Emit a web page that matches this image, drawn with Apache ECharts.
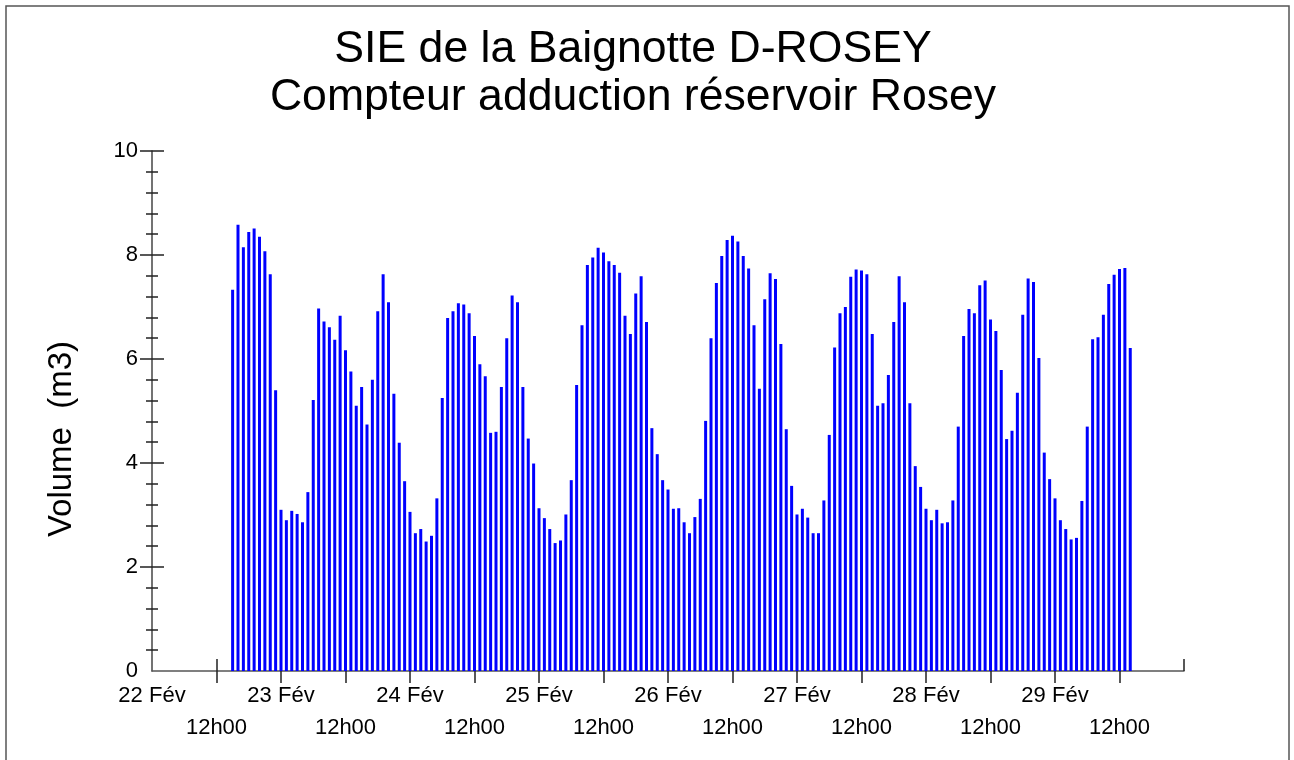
<!DOCTYPE html>
<html>
<head>
<meta charset="utf-8">
<script src="https://cdn.jsdelivr.net/npm/echarts@6/dist/echarts.min.js"></script>
<style>
html, body { margin: 0; padding: 0; background: #fff; }
#chart { width: 1294px; height: 760px; }
</style>
</head>
<body>
<div id="chart"></div>
<script>
// volumes horaires (m3), premiere barre a 22 Fev 15h
var firstHour = 15;
var volumes = [
	7.33, 8.58, 8.15, 8.44, 8.51, 8.35, 8.07, 7.63, 5.40, 3.10, 2.90, 3.08, 3.02, 2.86, 3.44, 5.21, 6.97, 6.72, 6.61, 6.37, 6.83,
	6.17, 5.76, 5.10, 5.46, 4.74, 5.60, 6.92, 7.63, 7.09, 5.33, 4.39, 3.65, 3.06, 2.65, 2.73, 2.49, 2.60, 3.32, 5.25, 6.79, 6.92, 7.07, 7.05,
	6.88, 6.44, 5.90, 5.67, 4.58, 4.60, 5.46, 6.40, 7.22, 7.09, 5.46, 4.47, 3.99, 3.13, 2.94, 2.73, 2.46, 2.51, 3.01, 3.67, 5.50, 6.65,
	7.81, 7.95, 8.14, 8.05, 7.88, 7.81, 7.66, 6.83, 6.48, 7.26, 7.59, 6.71, 4.67, 4.17, 3.67, 3.49, 3.12, 3.13, 2.86, 2.65, 2.96, 3.31,
	4.81, 6.40, 7.46, 7.98, 8.29, 8.37, 8.26, 7.98, 7.74, 6.65, 5.43, 7.15, 7.65, 7.54, 6.29, 4.65, 3.56, 3.01, 3.12, 2.95, 2.65, 2.65,
	3.28, 4.54, 6.22, 6.88, 7.00, 7.58, 7.72, 7.70, 7.63, 6.48, 5.10, 5.15, 5.69, 6.71, 7.59, 7.09, 5.15, 3.94, 3.54, 3.12, 2.90, 3.10, 2.84,
	2.86, 3.28, 4.70, 6.44, 6.96, 6.88, 7.42, 7.51, 6.76, 6.54, 5.79, 4.46, 4.62, 5.35, 6.85, 7.55, 7.48, 6.02, 4.20, 3.69, 3.32, 2.90,
	2.73, 2.53, 2.56, 3.27, 4.70, 6.38, 6.42, 6.85, 7.44, 7.62, 7.73, 7.75, 6.21
];
var dayLabels = ['22 Fév', '23 Fév', '24 Fév', '25 Fév', '26 Fév', '27 Fév', '28 Fév', '29 Fév', '01 Mars'];
var halfDayLabel = '12h00';
var yTicks = [0, 2, 4, 6, 8, 10];
var titleLines = ['SIE de la Baignotte D-ROSEY', 'Compteur adduction réservoir Rosey'];

(function() {
	var chart = echarts.init(document.getElementById('chart'));
	var font = 'Liberation Sans, Arial, sans-serif';

	var data = [];
	for (var i = 0; i < volumes.length; i++) {
		data.push([firstHour + i, volumes[i]]);
	}

	var xMax = (dayLabels.length - 1) * 24;
	var labelValues = [], tickValues = [];
	for (var h = 0; h <= xMax; h += 12) {
		labelValues.push(h);
		if (h > 0) tickValues.push(h);
	}

	function xLabel(v) {
		if (v % 24 === 0) return dayLabels[v / 24];
		return '\n' + halfDayLabel;
	}

	var xBase = {
		type: 'value',
		position: 'bottom',
		min: 0,
		max: xMax,
		splitLine: { show: false }
	};

	option = {
		animation: false,
		backgroundColor: '#fff',
		graphic: [
			{
				type: 'rect',
				shape: { x: 6, y: 6, width: 1283, height: 800 },
				style: { fill: 'none', stroke: '#555', lineWidth: 1.5 },
				silent: true
			},
			{
				// titre sur deux lignes
				type: 'text',
				x: 633,
				y: 74,
				style: {
					text: titleLines.join('\n'),
					font: '44.6px ' + font,
					lineHeight: 48,
					fill: '#000',
					align: 'center',
					verticalAlign: 'middle'
				}
			},
			{
				type: 'text',
				x: 62,
				y: 439,
				rotation: Math.PI / 2,
				style: {
					text: 'Volume  (m3)',
					font: '33px ' + font,
					fill: '#000',
					align: 'center',
					verticalAlign: 'middle'
				}
			}
		],
		grid: {
			left: 152,
			right: 110,
			top: 151,
			bottom: 89
		},
		xAxis: [
			echarts.util.merge({
				axisLine: { lineStyle: { color: '#555', width: 1.5 } },
				axisTick: {
					customValues: tickValues,
					length: 12,
					lineStyle: { color: '#222', width: 1.5 }
				},
				axisLabel: {
					customValues: labelValues,
					formatter: xLabel,
					margin: 9,
					fontFamily: font,
					fontSize: 22,
					lineHeight: 32,
					color: '#000'
				}
			}, xBase, true),
			echarts.util.merge({
				axisLine: { show: false },
				axisTick: {
					customValues: tickValues,
					inside: true,
					length: 12,
					lineStyle: { color: '#222', width: 1.5 }
				},
				axisLabel: { show: false }
			}, xBase, true)
		],
		yAxis: [
			{
				type: 'value',
				position: 'left',
				min: 0,
				max: 10,
				interval: 2,
				splitLine: { show: false },
				axisLine: { show: true, lineStyle: { color: '#444', width: 1.5 } },
				axisTick: {
					customValues: yTicks.slice(1),
					length: 12,
					lineStyle: { color: '#222', width: 1.5 }
				},
				minorTick: {
					show: true,
					splitNumber: 5,
					length: 6,
					lineStyle: { color: '#222', width: 1.5 }
				},
				axisLabel: {
					customValues: yTicks,
					margin: 14,
					fontFamily: font,
					fontSize: 22,
					color: '#000'
				}
			},
			{
				type: 'value',
				position: 'left',
				min: 0,
				max: 10,
				interval: 2,
				splitLine: { show: false },
				axisLine: { show: false },
				axisTick: {
					customValues: yTicks.slice(1),
					inside: true,
					length: 12,
					lineStyle: { color: '#222', width: 1.5 }
				},
				minorTick: {
					show: true,
					splitNumber: 5,
					length: 6,
					lineStyle: { color: '#222', width: 1.5 }
				},
				axisLabel: { show: false }
			}
		],
		series: [
			{
				name: 'Volume',
				type: 'bar',
				xAxisIndex: 0,
				yAxisIndex: 0,
				barWidth: 3,
				itemStyle: { color: '#0000ff' },
				data: data
			}
		]
	};

	chart.setOption(option);
})();
</script>
</body>
</html>
